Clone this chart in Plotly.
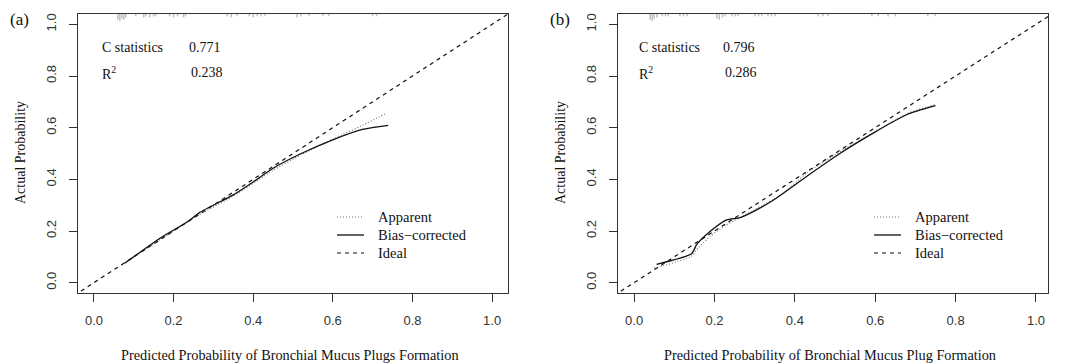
import plotly.graph_objects as go

# ---------------- data ----------------
tick_vals = [0.0, 0.2, 0.4, 0.6, 0.8, 1.0]
tick_text = ["0.0", "0.2", "0.4", "0.6", "0.8", "1.0"]
legend_names = ["Apparent", "Bias\u2212corrected", "Ideal"]

# Panel (a)
a_app_x = [0.07, 0.15, 0.25, 0.35, 0.45, 0.52, 0.60, 0.677, 0.731]
a_app_y = [0.068, 0.150, 0.250, 0.335, 0.435, 0.495, 0.556, 0.611, 0.653]
a_bias_x = [0.078, 0.166, 0.234, 0.266, 0.35, 0.40, 0.45, 0.518, 0.60, 0.677, 0.739]
a_bias_y = [0.076, 0.172, 0.235, 0.272, 0.340, 0.390, 0.443, 0.498, 0.553, 0.594, 0.609]
a_rug_x = [0.060, 0.065, 0.070, 0.075, 0.080, 0.105, 0.125, 0.130, 0.140, 0.150, 0.155,
           0.190, 0.200, 0.210, 0.225, 0.230, 0.335, 0.345, 0.360, 0.390, 0.400, 0.410,
           0.420, 0.430, 0.510, 0.520, 0.540, 0.575, 0.590, 0.700, 0.710]
a_rug_n = [5, 6, 4, 5, 3, 2, 3, 2, 3, 2, 2, 2, 3, 2, 3, 2, 2, 3, 2, 2, 3, 2, 2, 2, 3, 2, 2, 2, 2, 2, 2]
a_cstat, a_r2 = "0.771", "0.238"

# Panel (b)
b_app_x = [0.05, 0.14, 0.16, 0.19, 0.23, 0.30, 0.37, 0.43, 0.50, 0.60, 0.68, 0.75]
b_app_y = [0.056, 0.100, 0.135, 0.180, 0.224, 0.282, 0.345, 0.425, 0.495, 0.585, 0.655, 0.690]
b_bias_x = [0.056, 0.143, 0.156, 0.189, 0.23, 0.264, 0.305, 0.347, 0.43, 0.512, 0.595, 0.678, 0.75]
b_bias_y = [0.071, 0.112, 0.148, 0.198, 0.243, 0.252, 0.282, 0.320, 0.412, 0.500, 0.579, 0.650, 0.685]
b_rug_x = [0.040, 0.045, 0.050, 0.057, 0.070, 0.078, 0.085, 0.114, 0.123, 0.132, 0.206,
           0.212, 0.220, 0.226, 0.244, 0.252, 0.259, 0.301, 0.310, 0.318, 0.333, 0.342,
           0.351, 0.458, 0.470, 0.483, 0.592, 0.607, 0.632, 0.650, 0.731, 0.749]
b_rug_n = [5, 6, 4, 3, 2, 2, 2, 2, 2, 2, 4, 5, 3, 2, 2, 2, 2, 2, 2, 2, 2, 2, 2, 2, 2, 2, 2, 2, 2, 2, 2, 2]
b_cstat, b_r2 = "0.796", "0.286"

ideal = [-0.1, 1.1]

# ---------------- figure ----------------
W, H = 1070, 364
SERIF = "Liberation Serif, Times New Roman, serif"
SANS = "Liberation Sans, Arial, sans-serif"

APP_LINE = dict(color="#777777", width=1.2, dash="1px,2px")
BIAS_LINE = dict(color="#111111", width=1.3)
IDEAL_LINE = dict(color="#111111", width=1.2, dash="4px,4px")

fig = go.Figure()

def rug_segments(xs, ns, top=1.04, unit=0.0045):
    X, Y = [], []
    for x, n in zip(xs, ns):
        X += [x, x, None]
        Y += [top, top - n * unit, None]
    return X, Y

panels = [
    ("x", "y", a_app_x, a_app_y, a_bias_x, a_bias_y, a_rug_x, a_rug_n),
    ("x2", "y2", b_app_x, b_app_y, b_bias_x, b_bias_y, b_rug_x, b_rug_n),
]
for xa, ya, ax_, ay_, bx_, by_, rx, rn in panels:
    X, Y = rug_segments(rx, rn)
    fig.add_trace(go.Scatter(x=X, y=Y, mode="lines", xaxis=xa, yaxis=ya,
                             line=dict(color="#c0c0c0", width=1.5), showlegend=False,
                             hoverinfo="skip"))
    fig.add_trace(go.Scatter(x=ax_, y=ay_, mode="lines", name=legend_names[0], xaxis=xa, yaxis=ya,
                             showlegend=False,
                             line=dict(shape="spline", smoothing=0.6, **APP_LINE)))
    fig.add_trace(go.Scatter(x=bx_, y=by_, mode="lines", name=legend_names[1], xaxis=xa,
                             yaxis=ya, showlegend=False,
                             line=dict(shape="spline", smoothing=0.6, **BIAS_LINE)))
    fig.add_trace(go.Scatter(x=ideal, y=ideal, mode="lines", name=legend_names[2], xaxis=xa, yaxis=ya,
                             showlegend=False, line=IDEAL_LINE))

xdoms = [[78 / W, 508 / W], [618 / W, 1048 / W]]
ydom = [71 / H, 350 / H]
axis_common = dict(showline=True, mirror=True, linecolor="#333333", linewidth=1,
                   ticks="outside", ticklen=8, tickcolor="#333333", tickwidth=1,
                   showgrid=False, zeroline=False, tickvals=tick_vals, ticktext=tick_text,
                   tickfont=dict(family=SANS, size=13, color="#333333"))

fig.update_layout(
    width=W, height=H, margin=dict(l=0, r=0, t=0, b=0),
    paper_bgcolor="white", plot_bgcolor="white", showlegend=False,
    xaxis=dict(domain=xdoms[0], range=[-0.04, 1.04], anchor="y", ticklabelstandoff=7, **axis_common),
    yaxis=dict(domain=ydom, range=[-0.04, 1.04], anchor="x", tickangle=-90, ticklabelstandoff=8, **axis_common),
    xaxis2=dict(domain=xdoms[1], range=[-0.04, 1.03], anchor="y2", ticklabelstandoff=7, **axis_common),
    yaxis2=dict(domain=ydom, range=[-0.04, 1.04], anchor="x2", tickangle=-90, ticklabelstandoff=8, **axis_common),
)

ann = []
shapes = []
def txt(x, y, s, size=13, xanchor="left", angle=0, family=SERIF):
    ann.append(dict(x=x / W, y=1 - y / H, xref="paper", yref="paper", text=s, showarrow=False,
                    xanchor=xanchor, yanchor="middle", textangle=angle,
                    font=dict(family=family, size=size, color="#111111")))

for off, lab, cs, r2, xt in [(0, "(a)", a_cstat, a_r2, "Predicted Probability of Bronchial Mucus Plugs Formation"),
                             (540, "(b)", b_cstat, b_r2, "Predicted Probability of Bronchial Mucus Plug Formation")]:
    sx = -3 if off else 0
    txt(8 + off, 19, lab, size=17)
    txt(100 + off + sx, 48, "C statistics", size=14)
    txt(187 + off + 2 * sx, 48, cs, size=14)
    txt(100 + off + sx, 73, "R<sup>2</sup>", size=14)
    txt(189 + off + 2 * sx, 73, r2, size=14)
    txt(290 + off, 355, xt, size=14.3, xanchor="center")
    txt(20 + off, 153, "Actual Probability", size=14, xanchor="center", angle=-90)
    # manual legend
    for i, (name, ln) in enumerate(zip(legend_names, [APP_LINE, BIAS_LINE, IDEAL_LINE])):
        yy = 217 + 18 * i
        shapes.append(dict(type="line", xref="paper", yref="paper",
                           x0=(337 + off + sx) / W, x1=(364 + off + sx) / W,
                           y0=1 - yy / H, y1=1 - yy / H, line=ln))
        txt(376 + off + sx, yy, name, size=14.5)

fig.update_layout(annotations=ann, shapes=shapes)
fig.write_html("out.html")
